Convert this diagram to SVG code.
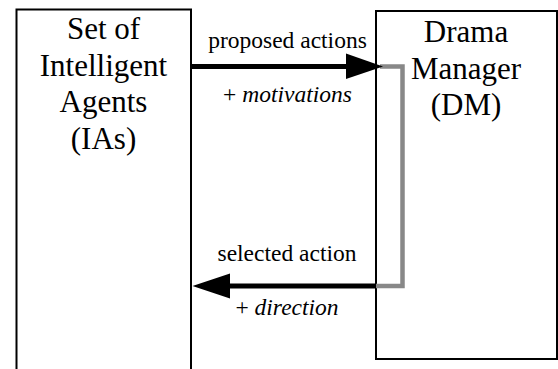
<svg xmlns="http://www.w3.org/2000/svg" width="558" height="369" viewBox="0 0 558 369">
<style>
.box{fill:#fff;stroke:#000;stroke-width:2}
.arr{stroke:#000;stroke-width:5;fill:none}
.gray{stroke:#888;stroke-width:4.5;fill:none;stroke-linejoin:miter}
</style>
<g id="ias">
<rect class="box" x="16.5" y="9.5" width="174.5" height="370"/>
<g font-family="'Liberation Serif', 'Times New Roman', Times, serif" font-size="31" text-anchor="middle" fill="#000">
<text x="103.5" y="38.5">Set of</text>
<text x="103.5" y="75.5">Intelligent</text>
<text x="103.5" y="112">Agents</text>
<text x="103.5" y="148.5">(IAs)</text>
</g>
</g>
<g id="dm">
<rect class="box" x="376" y="11" width="181" height="348"/>
<g font-family="'Liberation Serif', 'Times New Roman', Times, serif" font-size="31" text-anchor="middle" fill="#000">
<text x="466" y="41.5">Drama</text>
<text x="466" y="78.5">Manager</text>
<text x="466" y="115">(DM)</text>
</g>
</g>
<g id="connectors">
<path class="gray" d="M380 66.5 H402.5 V286 H376"/>
<line class="arr" x1="191" y1="66.5" x2="348" y2="66.5"/>
<polygon points="346,53.5 383,66.5 346,79" fill="#000"/>
<line class="arr" x1="376" y1="286" x2="228" y2="286"/>
<polygon points="230,273.5 192.5,286 230,298.5" fill="#000"/>
<g font-family="'Liberation Serif', 'Times New Roman', Times, serif" font-size="23.5" text-anchor="middle" fill="#000">
<text x="287.5" y="47.5">proposed actions</text>
<text x="287.5" y="101.5">+ <tspan font-style="italic">motivations</tspan></text>
<text x="287" y="260.5">selected action</text>
<text x="287" y="315">+ <tspan font-style="italic">direction</tspan></text>
</g>
</g>
</svg>
